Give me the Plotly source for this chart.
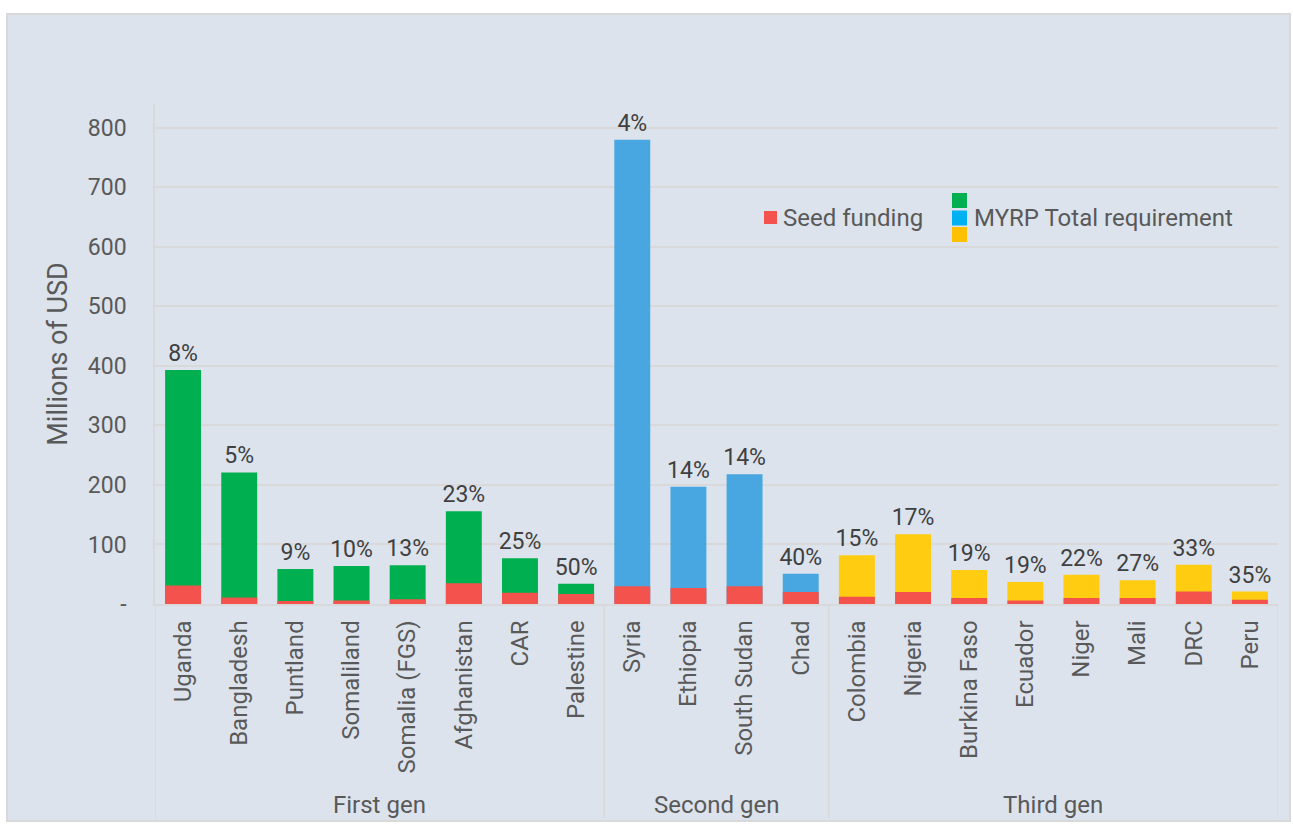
import plotly.graph_objects as go

countries = ["Uganda", "Bangladesh", "Puntland", "Somaliland", "Somalia (FGS)", "Afghanistan", "CAR", "Palestine",
             "Syria", "Ethiopia", "South Sudan", "Chad",
             "Colombia", "Nigeria", "Burkina Faso", "Ecuador", "Niger", "Mali", "DRC", "Peru"]
generations = ["First gen"] * 8 + ["Second gen"] * 4 + ["Third gen"] * 8
total_req = [393, 221, 59, 64, 65, 156, 77, 34,
             780, 197, 218, 51,
             82, 117, 57, 37, 49, 40, 66, 21]
seed = [31, 11, 5, 6, 8, 35, 19, 17,
        30, 27, 30, 20,
        12, 20, 10, 6, 10, 10, 21, 7]
pct_labels = ["8%", "5%", "9%", "10%", "13%", "23%", "25%", "50%",
              "4%", "14%", "14%", "40%",
              "15%", "17%", "19%", "19%", "22%", "27%", "33%", "35%"]
group_names = ["First gen", "Second gen", "Third gen"]
y_ticks = [0, 100, 200, 300, 400, 500, 600, 700, 800]
y_ticktext = ["-", "100", "200", "300", "400", "500", "600", "700", "800"]

gen_colors = {"First gen": "#00B050", "Second gen": "#48A7E1", "Third gen": "#FFCC11"}
legend_colors = ["#00B050", "#00B0F0", "#FFC000"]
SEED = "#F4524D"
FONT = "Roboto"
TXT = "#595959"

x = list(range(len(countries)))

fig = go.Figure()
fig.add_trace(go.Bar(
    x=x, y=total_req, width=0.64,
    marker=dict(color=[gen_colors[g] for g in generations], line=dict(width=0)),
    text=pct_labels, textposition="outside", cliponaxis=False, constraintext="none",
    textfont=dict(family=FONT, size=23, color="#404040"),
    name="MYRP Total requirement", showlegend=False, hoverinfo="skip"))
fig.add_trace(go.Bar(
    x=x, y=seed, width=0.64,
    marker=dict(color=SEED, line=dict(width=0)),
    name="Seed funding", showlegend=False, hoverinfo="skip"))

L, R, T, B = 155, 15, 104, 221
W, H = 1293, 825
pw, ph = W - L - R, H - T - B


def px(xx):
    return (xx - L) / pw


def py(yy):
    return (H - B - yy) / ph


shapes = []
# outer frame
shapes.append(dict(type="rect", xref="paper", yref="paper",
                   x0=px(7), x1=px(1290), y0=py(821), y1=py(14),
                   fillcolor="#DCE3EC", line=dict(color="#D9D9D9", width=2), layer="below"))
# group dividers
group_bounds = [-0.5]
for i in range(1, len(generations)):
    if generations[i] != generations[i - 1]:
        group_bounds.append(i - 0.5)
group_bounds.append(len(generations) - 0.5)
for b in group_bounds:
    shapes.append(dict(type="line", xref="x", yref="paper", x0=b, x1=b,
                       y0=0, y1=py(818), line=dict(color="#D9D9D9", width=1.5)))
# legend squares
shapes.append(dict(type="rect", xref="paper", yref="paper", x0=px(764), x1=px(777),
                   y0=py(224), y1=py(211), fillcolor=SEED, line=dict(width=0)))
for c, (t0, t1) in zip(legend_colors, [(193, 208), (210.5, 225.5), (227, 242)]):
    shapes.append(dict(type="rect", xref="paper", yref="paper", x0=px(952), x1=px(967),
                       y0=py(t1), y1=py(t0), fillcolor=c, line=dict(width=0)))

annotations = []
for gi, gname in enumerate(group_names):
    mid = (group_bounds[gi] + group_bounds[gi + 1]) / 2
    annotations.append(dict(x=mid, xref="x", y=py(805), yref="paper", text=gname,
                            showarrow=False, xanchor="center", yanchor="middle",
                            font=dict(family=FONT, size=24, color=TXT)))
annotations.append(dict(x=px(781), xref="paper", y=py(217.5), yref="paper", text="Seed funding",
                        showarrow=False, xanchor="left", yanchor="middle",
                        font=dict(family=FONT, size=24, color=TXT)))
annotations.append(dict(x=px(972), xref="paper", y=py(217.5), yref="paper", text="MYRP Total requirement",
                        showarrow=False, xanchor="left", yanchor="middle",
                        font=dict(family=FONT, size=24, color=TXT)))

fig.update_layout(
    width=W, height=H, barmode="overlay",
    margin=dict(l=L, r=R, t=T, b=B, pad=0),
    paper_bgcolor="white", plot_bgcolor="rgba(0,0,0,0)",
    font=dict(family=FONT, size=22, color=TXT),
    showlegend=False, shapes=shapes, annotations=annotations,
    xaxis=dict(range=[-0.5, len(countries) - 0.5], tickmode="array", tickvals=x, ticktext=countries,
               tickangle=-90, showgrid=False, zeroline=False, showline=True, linecolor="#D9D9D9",
               linewidth=1.5, ticks="", tickfont=dict(family=FONT, size=24, color=TXT),
               ticklabelstandoff=5),
    yaxis=dict(range=[0, 840], tickmode="array", tickvals=y_ticks, ticktext=y_ticktext,
               showgrid=True, gridcolor="#D9D9D9", gridwidth=1.5, zeroline=False,
               showline=True, linecolor="#D9D9D9", linewidth=1.5, ticks="",
               tickfont=dict(family=FONT, size=23, color=TXT), ticklabelstandoff=22,
               title=dict(text="Millions of USD", font=dict(family=FONT, size=27, color=TXT), standoff=12)),
)

fig.write_html("out.html")
